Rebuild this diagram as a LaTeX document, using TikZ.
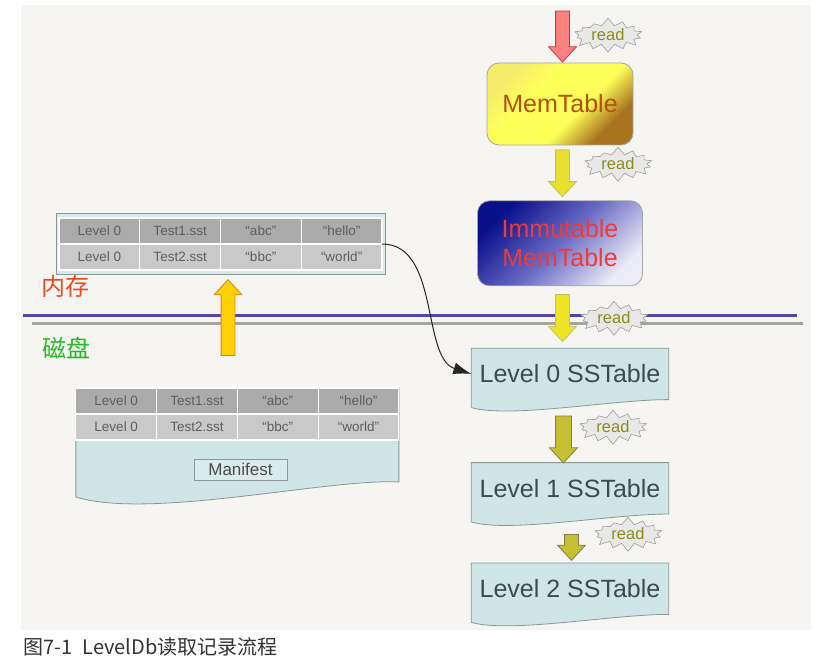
\documentclass[tikz,border=0pt]{standalone}
\usepackage{fontspec}
\setmainfont{Liberation Sans}
\newfontfamily\cjk{Noto Sans CJK SC}
\usepackage{tikz}
\usetikzlibrary{shapes, shapes.arrows, shapes.symbols, arrows.meta, calc, positioning, fit}
\usepackage{xcolor}
\definecolor{paper}{HTML}{F6F5F1}
\definecolor{docfill}{HTML}{CFE6E6}
\definecolor{docline}{HTML}{8A9797}
\definecolor{rowdark}{HTML}{ABABAB}
\definecolor{rowlight}{HTML}{C9C9C9}
\definecolor{celltext}{HTML}{5E5E5E}
\definecolor{leveltext}{HTML}{3E4A52}
\definecolor{readtext}{HTML}{8C8C1E}
\definecolor{memtext}{HTML}{B5500A}
\definecolor{immtext}{HTML}{EE3A3A}
\definecolor{ramred}{HTML}{F04A24}
\definecolor{diskgreen}{HTML}{22BB22}
\definecolor{rulepurple}{HTML}{5444A8}
\definecolor{rulegray}{HTML}{A4A4A4}
\definecolor{membrown}{HTML}{A8741E}
\definecolor{memyellow}{HTML}{FFFF5A}
\definecolor{memlight}{HTML}{F4EC6A}
\definecolor{immdark}{HTML}{08108A}
\definecolor{immmid}{HTML}{6A6AC4}
\definecolor{immlight}{HTML}{ECECF8}
\newcommand{\pxfont}[1]{\fontsize{#1}{#1}\selectfont}
\pgfdeclareverticalshading{memshade}{100bp}{color(0bp)=(membrown); color(28bp)=(membrown); color(42bp)=(memyellow); color(62bp)=(memyellow); color(75bp)=(memlight); color(100bp)=(memlight)}
\pgfdeclareverticalshading{immshade}{100bp}{color(0bp)=(immlight); color(25bp)=(immlight); color(50bp)=(immmid); color(75bp)=(immdark); color(100bp)=(immdark)}
\pgfdeclarelayer{bg}
\pgfdeclarelayer{docs}
\pgfsetlayers{bg,docs,main}

\begin{document}
\begin{tikzpicture}[x=1pt, y=-1pt]
        \tikzstyle{memnode}=[draw=gray!70, rounded corners=12pt, line width=0.8pt, align=center, inner sep=2pt, font=\fontsize{25}{29}\selectfont]
        \tikzstyle{levelnode}=[minimum width=197pt, minimum height=51pt, inner sep=0pt, text=leveltext, font=\pxfont{25}]
        \tikzstyle{cellA}=[fill=rowdark, draw=white, line width=1.2pt, minimum width=80.75pt, minimum height=26pt, inner sep=0pt, outer sep=0pt, text=celltext, font=\pxfont{13.5}]
        \tikzstyle{cellB}=[cellA, fill=rowlight]
        \tikzstyle{burst}=[starburst, starburst points=14, starburst point height=8pt, random starburst=7, fill=gray!18, draw=gray!75, line width=0.6pt, minimum width=74pt, minimum height=35pt, inner sep=0pt, text=readtext, font=\pxfont{16.5}]
        \tikzstyle{blockarrow}=[single arrow, single arrow head extend=7pt, single arrow tip angle=85, inner sep=6.5pt, line width=0.8pt, anchor=tip]
        \tikzstyle{docshape}=[fill=docfill, draw=docline, line width=0.8pt]

        % page and the two rules
        \useasboundingbox (0,0) rectangle (813,663);
        \begin{pgfonlayer}{bg}
            \fill[paper] (21,5) rectangle (811,630);
        \end{pgfonlayer}
        \draw[rulepurple, line width=3pt] (23,315) -- (797,315);
        \draw[rulegray, line width=3pt] (32,323) -- (803,323);

        \node[text=ramred, font=\cjk\pxfont{24}] (ram) at (65,286) {内存};
        \node[text=diskgreen, font=\cjk\pxfont{24}] (disk) at (66,348) {磁盘};

        % read path
        \node[memnode, minimum width=146pt, minimum height=82pt, shading=memshade, shading angle=45, text=memtext] (mem) at (560,104) {MemTable};
        \node[memnode, below = 55pt of mem, minimum width=165pt, minimum height=85pt, shading=immshade, shading angle=45, text=immtext] (imm) {Immutable\\MemTable};
        \node[levelnode, below = 62pt of imm, xshift=10pt] (l0) {Level 0 SSTable};
        \node[levelnode, below = 63pt of l0] (l1) {Level 1 SSTable};
        \node[levelnode, below = 49pt of l1] (l2) {Level 2 SSTable};

        \node[blockarrow, shape border rotate=270, minimum height=51pt, fill=red!50!white, draw=red!55!gray] (rd0) at ($(mem.north)+(2.5,0)$) {};
        \node[blockarrow, shape border rotate=270, minimum height=47pt, fill=yellow!80!gray, draw=yellow!50!gray] (rd1) at ($(imm.north)+(2.5,-3)$) {};
        \node[blockarrow, shape border rotate=270, minimum height=47pt, fill=yellow!85!gray, draw=yellow!50!gray] (rd2) at ($(l0.north)+(-7.5,-6)$) {};
        \node[blockarrow, shape border rotate=270, minimum height=47pt, inner sep=7.5pt, single arrow head extend=6pt, fill=yellow!75!black, draw=yellow!45!black] (rd3) at ($(l1.north)+(-6.5,1)$) {};
        \node[blockarrow, shape border rotate=270, minimum height=26pt, fill=yellow!75!black, draw=yellow!45!black] (rd4) at ($(l2.north)+(1.5,-2)$) {};

        \node[burst] (b0) at (608,35) {read};
        \node[burst] (b1) at (618,164) {read};
        \node[burst] (b2) at (614,318) {read};
        \node[burst] (b3) at (613,427) {read};
        \node[burst] (b4) at (628,534) {read};

        % table in memory
        \node[cellA] (c11) at (99.375,231) {Level 0};
        \node[cellA, right = 0pt of c11] (c12) {Test1.sst};
        \node[cellA, right = 0pt of c12] (c13) {“abc”};
        \node[cellA, right = 0pt of c13] (c14) {“hello”};
        \node[cellB, below = 0pt of c11] (c21) {Level 0};
        \node[cellB, right = 0pt of c21] (c22) {Test2.sst};
        \node[cellB, right = 0pt of c22] (c23) {“bbc”};
        \node[cellB, right = 0pt of c23] (c24) {“world”};

        % manifest on disk
        \node[cellA] (m11) at (116.25,401) {Level 0};
        \node[cellA, right = 0pt of m11] (m12) {Test1.sst};
        \node[cellA, right = 0pt of m12] (m13) {“abc”};
        \node[cellA, right = 0pt of m13] (m14) {“hello”};
        \node[cellB, below = 0pt of m11] (m21) {Level 0};
        \node[cellB, right = 0pt of m21] (m22) {Test2.sst};
        \node[cellB, right = 0pt of m22] (m23) {“bbc”};
        \node[cellB, right = 0pt of m23] (m24) {“world”};
        \node[draw=docline, fill=docfill!80!white, line width=0.8pt, minimum width=93pt, minimum height=21pt, inner sep=0pt, text=celltext!80!black, font=\pxfont{17}] (manifest) at (240.5,469.5) {Manifest};

        \node[blockarrow, shape border rotate=90, minimum height=76pt, fill=yellow!70!orange, draw=orange!70!gray] (load) at ($(c23.south west)+(7.5,9)$) {};

        \begin{pgfonlayer}{docs}
            \node[fit=(c11)(c24), inner xsep=3pt, inner ysep=4.5pt, fill=docfill!85!white, draw=docline, line width=0.8pt] (memtab) {};
            \draw[docshape] (m11.north west) -- (m14.north east) -- ($(m14.north east)+(0,94)$) .. controls +(-68,-4) and +(74,23) .. ($(m11.north west)+(0,109)$) -- cycle;
            \draw[docshape] (l0.north west) -- (l0.north east) -- (l0.south east) .. controls +(-57,0) and +(39,11) .. ($(l0.south west)+(0,8)$) -- cycle;
            \draw[docshape] (l1.north west) -- (l1.north east) -- (l1.south east) .. controls +(-57,0) and +(39,11) .. ($(l1.south west)+(0,8)$) -- cycle;
            \draw[docshape] (l2.north west) -- (l2.north east) -- (l2.south east) .. controls +(-57,0) and +(39,11) .. ($(l2.south west)+(0,8)$) -- cycle;
        \end{pgfonlayer}

        \draw[-{Latex[length=18pt, width=12pt]}, line width=1pt, black!85] (c14.south east) .. controls +(58,0) and +(-50,-16) .. (l0.west);

        \node[anchor=west, text=black!80, font=\cjk\pxfont{20}] (caption) at (20,647) {图7-1\hspace{0.5em}LevelDb读取记录流程};
\end{tikzpicture}
\end{document}
